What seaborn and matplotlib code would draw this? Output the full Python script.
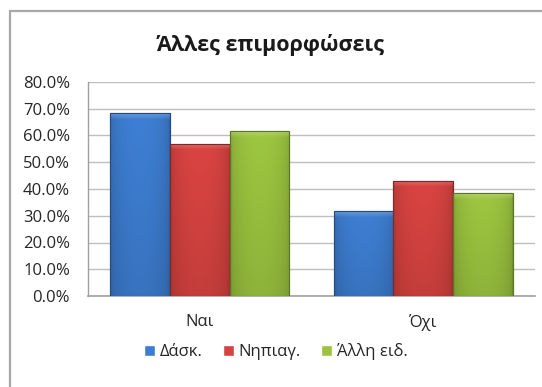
import numpy as np
import pandas as pd
import matplotlib
matplotlib.use("Agg")
import matplotlib.pyplot as plt
import matplotlib.colors as mcolors
import seaborn as sns
from matplotlib.ticker import PercentFormatter, MultipleLocator
from matplotlib.patches import Rectangle

# Data
answers = ["Ναι", "Όχι"]
groups = ["Δάσκ.", "Νηπιαγ.", "Άλλη ειδ."]
dask = [0.684, 0.316]
nipiag = [0.570, 0.430]
alli = [0.615, 0.385]
colors = ["#3D7DD0", "#D64340", "#9BC33F"]
title = "Άλλες επιμορφώσεις"

sns.set_theme(style="white")
plt.rcParams["font.family"] = ["Open Sans", "DejaVu Sans"]

rows = []
for g, vals in zip(groups, [dask, nipiag, alli]):
    for a, v in zip(answers, vals):
        rows.append({"answer": a, "group": g, "value": v})
df = pd.DataFrame(rows)

W, H = 542, 387
fig = plt.figure(figsize=(W / 100, H / 100), dpi=100)
fig.patch.set_facecolor("white")

# outer chart frame
fig.patches.append(Rectangle((9.5 / W, -0.05), 1.1, 1 - 10.5 / H + 0.05,
                             transform=fig.transFigure, fill=False,
                             edgecolor="#A8A8A8", lw=1.6))

left, right, top, bottom = 88, 535, 82, 296
ax = fig.add_axes([left / W, 1 - bottom / H, (right - left) / W, (bottom - top) / H])

sns.barplot(data=df, x="answer", y="value", hue="group", order=answers,
            hue_order=groups, palette=colors, width=0.8, saturation=1,
            ax=ax, zorder=3)

handles, labels = ax.get_legend_handles_labels()
if ax.get_legend() is not None:
    ax.get_legend().remove()

# bevelled shading on each bar
px_per_unit = (bottom - top) / 0.8
for p in list(ax.patches):
    w = p.get_width()
    h = p.get_height()
    if h <= 0:
        continue
    x0, y0 = p.get_x(), p.get_y()
    base = np.array(mcolors.to_rgb(p.get_facecolor()))
    nrows = max(int(h * px_per_unit), 2)
    ncols = 60
    xs = np.linspace(0, 1, ncols)
    prof = 0.80 + 0.22 * np.sin(np.pi * xs) ** 0.35
    shade = np.tile(prof, (nrows, 1))
    yy = np.arange(nrows)[:, None]
    shade = shade * (1 - 0.10 * (yy / nrows))
    img = np.clip(base[None, None, :] * shade[:, :, None], 0, 1)
    band = min(6, nrows // 3)
    light = np.clip(base + (1 - base) * 0.35, 0, 1)
    for r in range(band):
        t = 1 - r / max(band, 1)
        img[r] = np.clip(img[r] * (1 - 0.6 * t) + light * 0.6 * t, 0, 1)
    im = ax.imshow(img, extent=(x0, x0 + w, y0, y0 + h), aspect="auto",
                   origin="upper", zorder=3.5, interpolation="bilinear")
    im.set_clip_path(p)
    p.set_edgecolor(tuple(base * 0.6))
    p.set_linewidth(0.8)
    edge = Rectangle((x0, y0), w, h, fill=False, edgecolor=tuple(base * 0.6),
                     lw=0.8, zorder=3.6)
    ax.add_patch(edge)

ax.set_xlim(-0.5, 1.5)
ax.set_ylim(0, 0.8)
ax.yaxis.set_major_locator(MultipleLocator(0.1))
ax.yaxis.set_major_formatter(PercentFormatter(1.0, decimals=1))
ax.grid(axis="y", color="#BEBEBE", lw=1, zorder=0)
ax.set_axisbelow(True)
for s in ["top", "right"]:
    ax.spines[s].set_visible(False)
ax.spines["left"].set_color("#A0A0A0")
ax.spines["bottom"].set_color("#A0A0A0")
ax.spines["left"].set_linewidth(1)
ax.spines["bottom"].set_linewidth(1.2)
ax.set_xlabel("")
ax.set_ylabel("")
ax.tick_params(axis="y", length=0, pad=13, labelsize=12, labelcolor="#262626")
ax.tick_params(axis="x", length=0, pad=13, labelsize=12, labelcolor="#262626")

fig.text(271 / W, 1 - 45 / H, title, ha="center", va="center",
         fontsize=15.5, fontweight="bold", color="#1A1A1A")

fig.legend(handles, labels, loc="center", bbox_to_anchor=(276 / W, 1 - 352 / H),
           ncol=3, frameon=False, fontsize=12, handlelength=0.65,
           handleheight=0.65, handletextpad=0.3, columnspacing=1.2,
           labelcolor="#262626")

fig.savefig("out.png", dpi=100)
